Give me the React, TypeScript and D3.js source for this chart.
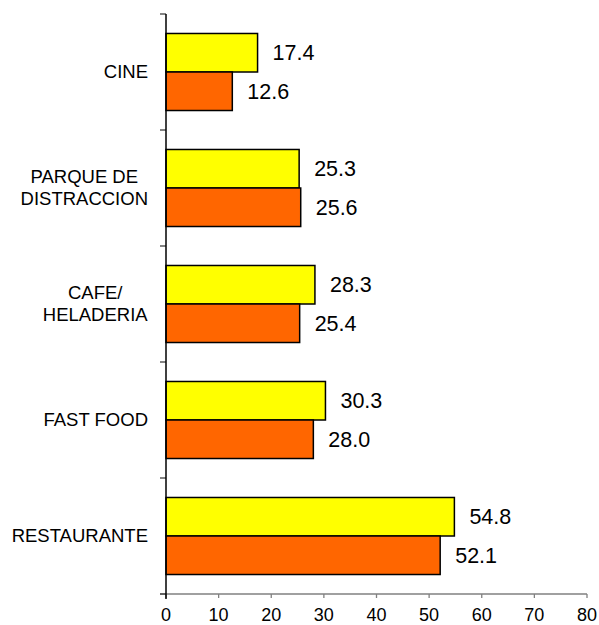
import React, { useEffect, useRef } from "react";
import * as d3 from "d3";

const categories = ["CINE", "PARQUE DE\nDISTRACCION", "CAFE/\nHELADERIA", "FAST FOOD", "RESTAURANTE"];
const seriesA = [17.4, 25.3, 28.3, 30.3, 54.8];
const seriesB = [12.6, 25.6, 25.4, 28.0, 52.1];
const xTicks = [0, 10, 20, 30, 40, 50, 60, 70, 80];

const W = 599;
const H = 625;
const FONT = "'Liberation Sans', Arial, sans-serif";

export default function App() {
  const ref = useRef<SVGSVGElement | null>(null);

  useEffect(() => {
    const svg = d3.select(ref.current);
    svg.selectAll("*").remove();

    const x = d3.scaleLinear().domain([0, 80]).range([166, 587]);
    const y = d3
      .scaleBand<string>()
      .domain(categories)
      .range([14, 594])
      .paddingInner(0.336)
      .paddingOuter(0.168);
    const sub = d3.scaleBand<string>().domain(["a", "b"]).range([0, y.bandwidth()]);

    const rows = categories.map((c, i) => ({ c, a: seriesA[i], b: seriesB[i] }));

    // x axis (gray)
    const axisY = 594;
    svg
      .append("line")
      .attr("x1", 160)
      .attr("x2", x(80))
      .attr("y1", axisY)
      .attr("y2", axisY)
      .attr("stroke", "#808080")
      .attr("stroke-width", 1.3);
    svg
      .selectAll(".xt")
      .data(xTicks)
      .enter()
      .append("line")
      .attr("x1", (d) => x(d))
      .attr("x2", (d) => x(d))
      .attr("y1", axisY)
      .attr("y2", axisY + 4)
      .attr("stroke", "#808080")
      .attr("stroke-width", 1.3);
    svg
      .selectAll(".xl")
      .data(xTicks)
      .enter()
      .append("text")
      .attr("x", (d) => x(d))
      .attr("y", 621)
      .attr("text-anchor", "middle")
      .attr("font-family", FONT)
      .attr("font-size", 18)
      .attr("fill", "#000")
      .text((d) => String(d));

    // y axis ticks at category boundaries
    const bounds = [14, ...categories.map((c) => (y(c) as number) + y.bandwidth() + y.step() * 0.168)];
    svg
      .selectAll(".yt")
      .data(bounds)
      .enter()
      .append("line")
      .attr("x1", 160)
      .attr("x2", 166)
      .attr("y1", (d) => d)
      .attr("y2", (d) => d)
      .attr("stroke", "#404040")
      .attr("stroke-width", 1.3);

    // bars
    const g = svg.selectAll(".row").data(rows).enter().append("g").attr("transform", (d) => `translate(0,${y(d.c)})`);
    g.append("rect")
      .attr("x", x(0))
      .attr("y", sub("a") as number)
      .attr("width", (d) => x(d.a) - x(0))
      .attr("height", sub.bandwidth())
      .attr("fill", "#FFFF00")
      .attr("stroke", "#000")
      .attr("stroke-width", 1.5);
    g.append("rect")
      .attr("x", x(0))
      .attr("y", sub("b") as number)
      .attr("width", (d) => x(d.b) - x(0))
      .attr("height", sub.bandwidth())
      .attr("fill", "#FF6600")
      .attr("stroke", "#000")
      .attr("stroke-width", 1.5);

    // value labels
    g.append("text")
      .attr("x", (d) => x(d.a) + 15)
      .attr("y", (sub("a") as number) + sub.bandwidth() / 2)
      .attr("dy", "0.35em")
      .attr("font-family", FONT)
      .attr("font-size", 21.5)
      .attr("fill", "#000")
      .text((d) => d.a.toFixed(1));
    g.append("text")
      .attr("x", (d) => x(d.b) + 15)
      .attr("y", (sub("b") as number) + sub.bandwidth() / 2)
      .attr("dy", "0.35em")
      .attr("font-family", FONT)
      .attr("font-size", 21.5)
      .attr("fill", "#000")
      .text((d) => d.b.toFixed(1));

    // category labels
    const rightEdge = 148;
    const lineH = 22;
    rows.forEach((r) => {
      const lines = r.c.split("\n");
      const cy = (y(r.c) as number) + y.bandwidth() / 2;
      const t = svg
        .append("text")
        .attr("font-family", FONT)
        .attr("font-size", 18.5)
        .attr("fill", "#000")
        .attr("text-anchor", "middle");
      lines.forEach((ln, i) => {
        t.append("tspan")
          .attr("x", 0)
          .attr("y", cy + (i - (lines.length - 1) / 2) * lineH)
          .attr("dy", "0.35em")
          .text(ln);
      });
      const node = t.node() as SVGTextElement;
      const bw = node.getBBox().width;
      t.selectAll("tspan").attr("x", rightEdge - bw / 2);
    });

    // y axis (black), extends a bit below x axis
    svg
      .append("line")
      .attr("x1", 166)
      .attr("x2", 166)
      .attr("y1", 14)
      .attr("y2", 599)
      .attr("stroke", "#000")
      .attr("stroke-width", 1.5);
  }, []);

  return (
    <svg
      ref={ref}
      width={W}
      height={H}
      style={{ position: "absolute", left: 0, top: 0, background: "#fff" }}
    />
  );
}
